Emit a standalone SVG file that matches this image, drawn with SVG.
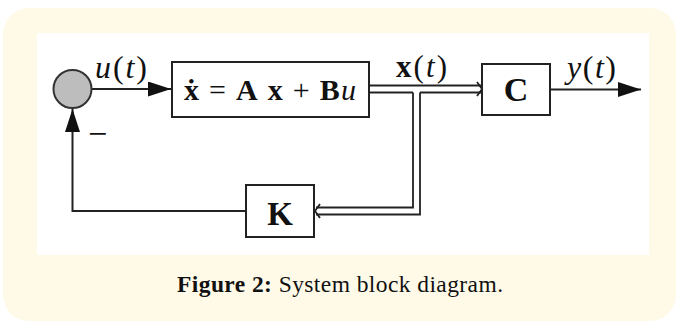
<svg xmlns="http://www.w3.org/2000/svg" width="677" height="324" viewBox="0 0 677 324">
<defs>
<style>
.ln{fill:none;stroke:#222;stroke-width:2}
.dl{fill:none;stroke:#222;stroke-width:1.8}
.box{fill:#fff;stroke:#222;stroke-width:2}
.m{font-family:"Liberation Serif","Times New Roman",serif;fill:#111}
.it{font-style:italic}
.b{font-weight:bold}
.cap{font-family:"Liberation Serif",serif;fill:#111;font-size:23.5px}
</style>
<marker id="ah" markerWidth="24" markerHeight="16" refX="23" refY="7.5" orient="auto" markerUnits="userSpaceOnUse">
<path d="M0,0 L23,7.5 L0,15 Z" fill="#111"/>
</marker>
</defs>
<rect x="3" y="8" width="673" height="313" rx="26" fill="#fffae8"/>
<rect x="37" y="33" width="612" height="222" fill="#fff"/>

<g id="connectors">
<line class="ln" x1="92" y1="89" x2="171" y2="89" marker-end="url(#ah)"/>
<line class="ln" x1="550" y1="89.5" x2="641" y2="89.5" marker-end="url(#ah)"/>
<polyline class="ln" points="246,211 72.5,211 72.5,109" marker-end="url(#ah)"/>
<line class="dl" x1="369" y1="85.5" x2="481" y2="85.5"/>
<line class="dl" x1="369" y1="92.5" x2="413" y2="92.5"/>
<line class="dl" x1="420" y1="92.5" x2="481" y2="92.5"/>
<polyline class="dl" points="477,82 482,89 477,96"/>
<polyline class="dl" points="413,92.5 413,207.5 316,207.5"/>
<polyline class="dl" points="420,92.5 420,214.5 316,214.5"/>
<polyline class="dl" points="320,204 315,211 320,218"/>
</g>

<g id="sum">
<circle cx="72.5" cy="89" r="19" fill="#bdbdbd" stroke="#333" stroke-width="2"/>
<text class="m" x="88" y="145" font-size="34">−</text>
</g>

<g id="plant">
<rect class="box" x="172" y="62" width="197" height="55"/>
<text class="m" x="184" y="100" font-size="30" textLength="172" lengthAdjust="spacing"><tspan class="b">ẋ</tspan> = <tspan class="b">A</tspan> <tspan class="b">x</tspan> + <tspan class="b">B</tspan><tspan class="it">u</tspan></text>
</g>

<g id="output">
<rect class="box" x="482" y="64" width="68" height="51"/>
<text class="m b" x="516" y="101" font-size="34" text-anchor="middle">C</text>
</g>

<g id="gain">
<rect class="box" x="246" y="185" width="68" height="52"/>
<text class="m b" x="280" y="225" font-size="33" text-anchor="middle">K</text>
</g>

<g id="labels">
<text class="m" x="95" y="78" font-size="32" textLength="52" lengthAdjust="spacing"><tspan class="it">u</tspan>(<tspan class="it">t</tspan>)</text>
<text class="m" x="396" y="77" font-size="31" textLength="51" lengthAdjust="spacing"><tspan class="b">x</tspan>(<tspan class="it">t</tspan>)</text>
<text class="m" x="567" y="78" font-size="32" textLength="49" lengthAdjust="spacing"><tspan class="it">y</tspan>(<tspan class="it">t</tspan>)</text>
</g>

<text class="cap" x="177" y="292" textLength="326" lengthAdjust="spacing"><tspan font-weight="bold">Figure 2:</tspan> System block diagram.</text>
</svg>
